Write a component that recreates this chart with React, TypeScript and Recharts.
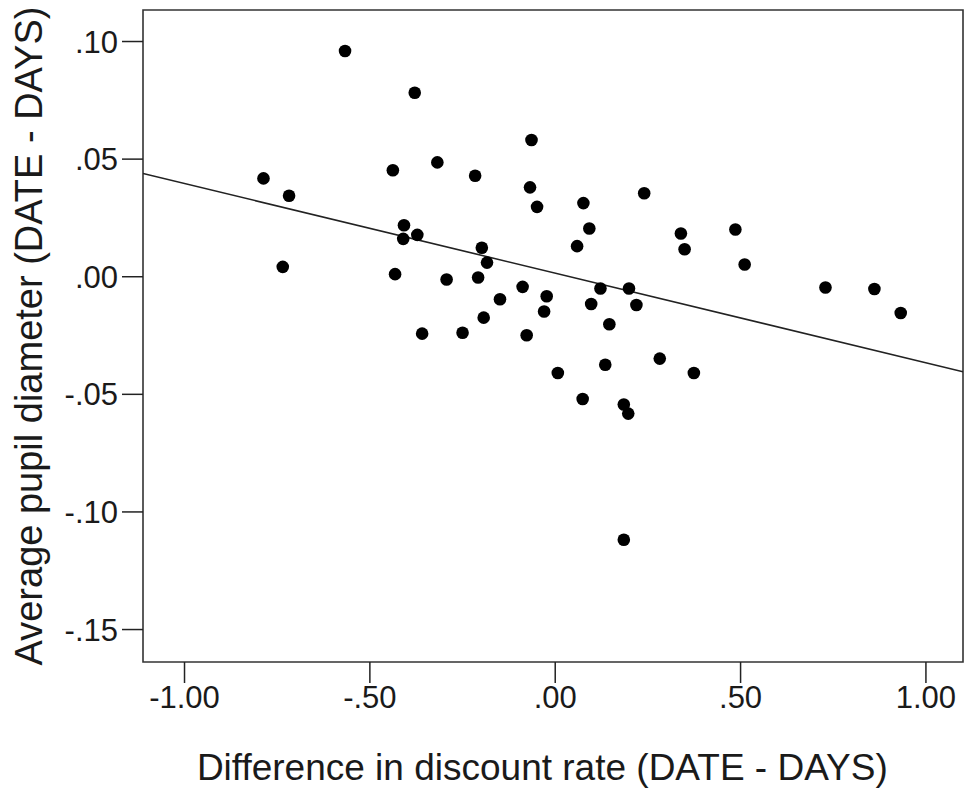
import React from 'react';
import { ScatterChart, Scatter, XAxis, YAxis, ReferenceArea } from 'recharts';

// Difference in discount rate (DATE - DAYS)
const discountDiff = [
  -0.567, -0.379, -0.064, -0.787, -0.718, -0.438, -0.318, -0.216, -0.068, -0.049,
  -0.408, -0.410, -0.372, -0.198, -0.184, -0.735, -0.432, -0.293, -0.208, -0.088,
  -0.023, -0.149, -0.030, -0.193, -0.359, -0.250, -0.077, 0.076, 0.240, 0.092,
  0.059, 0.339, 0.349, 0.486, 0.511, 0.729, 0.861, 0.932, 0.122, 0.199,
  0.097, 0.219, 0.146, 0.007, 0.135, 0.282, 0.374, 0.074, 0.185, 0.197,
  0.185,
];
// Average pupil diameter (DATE - DAYS)
const pupilDiff = [
  0.0960, 0.0782, 0.0581, 0.0418, 0.0344, 0.0453, 0.0486, 0.0429, 0.0380, 0.0297,
  0.0219, 0.0161, 0.0178, 0.0123, 0.0060, 0.0042, 0.0011, -0.0012, -0.0003, -0.0043,
  -0.0083, -0.0096, -0.0148, -0.0174, -0.0242, -0.0238, -0.0249, 0.0313, 0.0355, 0.0205,
  0.0130, 0.0184, 0.0117, 0.0201, 0.0052, -0.0046, -0.0052, -0.0154, -0.0050, -0.0050,
  -0.0116, -0.0120, -0.0202, -0.0409, -0.0374, -0.0348, -0.0409, -0.0520, -0.0543, -0.0582,
  -0.1118,
];

// Fitted line endpoints
const fitX = [-1.112, 1.1];
const fitY = [0.0439, -0.0404];

const xDomain = [-1.112, 1.1];
const yDomain = [-0.1638, 0.1134];

const xTicks = [-1, -0.5, 0, 0.5, 1];
const xTickLabels = ['-1.00', '-.50', '.00', '.50', '1.00'];
const yTicks = [0.1, 0.05, 0, -0.05, -0.1, -0.15];
const yTickLabels = ['.10', '.05', '.00', '-.05', '-.10', '-.15'];

const xTitle = 'Difference in discount rate (DATE - DAYS)';
const yTitle = 'Average pupil diameter (DATE - DAYS)';

const points = discountDiff.map((x, i) => ({ x, y: pupilDiff[i] }));
const fitLine = fitX.map((x, i) => ({ x, y: fitY[i] }));

const FONT = '"Liberation Sans", Arial, sans-serif';
const INK = '#1a1a1a';

const Dot = (props: any) => <circle cx={props.cx} cy={props.cy} r={6.3} fill="#000" />;
const NoDot = () => <g />;

const fmt = (ticks: number[], labels: string[]) => (v: number) => {
  const i = ticks.findIndex((t) => Math.abs(t - v) < 1e-9);
  return i >= 0 ? labels[i] : '';
};

const XTitle = (props: any) => {
  const vb = props.viewBox;
  return (
    <text x={vb.x + vb.width * 0.487} y={vb.y + 118} textAnchor="middle" fontSize={37} fill={INK} fontFamily={FONT}>
      {xTitle}
    </text>
  );
};

const YTitle = (props: any) => {
  const vb = props.viewBox;
  const cx = 21;
  const cy = vb.y + vb.height * 0.5;
  return (
    <text x={cx} y={cy} transform={`rotate(-90, ${cx}, ${cy})`} textAnchor="middle" dominantBaseline="central" fontSize={38} fill={INK} fontFamily={FONT}>
      {yTitle}
    </text>
  );
};

export default function App() {
  return (
    <div style={{ position: 'absolute', left: 8, top: 8 }}>
      <ScatterChart width={956} height={783} margin={{ top: 2, right: 1, bottom: 0, left: 0 }} style={{ fontFamily: FONT }}>
        <XAxis
          type="number"
          dataKey="x"
          domain={xDomain}
          ticks={xTicks}
          allowDataOverflow
          tickFormatter={fmt(xTicks, xTickLabels)}
          tickSize={21}
          tickMargin={3}
          axisLine={false}
          tickLine={{ stroke: '#222', strokeWidth: 1.5 }}
          tick={{ fontSize: 31, fill: INK, fontFamily: FONT }}
          height={129}
          label={<XTitle />}
        />
        <YAxis
          type="number"
          dataKey="y"
          domain={yDomain}
          ticks={yTicks}
          allowDataOverflow
          tickFormatter={fmt(yTicks, yTickLabels)}
          tickSize={21}
          tickMargin={4}
          axisLine={false}
          tickLine={{ stroke: '#222', strokeWidth: 1.5 }}
          tick={{ fontSize: 31, fill: INK, fontFamily: FONT }}
          width={135}
          label={<YTitle />}
        />
        <ReferenceArea
          x1={xDomain[0]}
          x2={xDomain[1]}
          y1={yDomain[0]}
          y2={yDomain[1]}
          fill="none"
          fillOpacity={0}
          stroke="#333"
          strokeWidth={1.6}
          ifOverflow="visible"
        />
        <Scatter data={fitLine} line={{ stroke: '#222', strokeWidth: 1.6 }} shape={NoDot} isAnimationActive={false} />
        <Scatter data={points} shape={Dot} isAnimationActive={false} />
      </ScatterChart>
    </div>
  );
}
